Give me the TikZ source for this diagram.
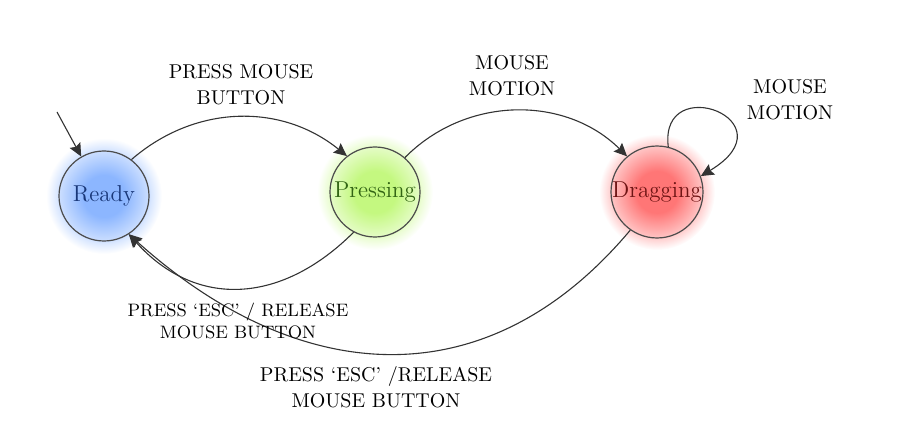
\documentclass[tikz,border=0pt]{standalone}
\usepackage{tikz}
\usetikzlibrary{arrows.meta,backgrounds}
\definecolor{readyfill}{RGB}{140,182,255}
\definecolor{readytext}{RGB}{25,55,120}
\definecolor{pressfill}{RGB}{196,248,128}
\definecolor{presstext}{RGB}{50,100,20}
\definecolor{dragfill}{RGB}{255,118,118}
\definecolor{dragtext}{RGB}{110,20,20}
\pgfdeclareradialshading{readyglow}{\pgfpointorigin}{color(0bp)=(readyfill); color(9bp)=(readyfill); color(19.4bp)=(readyfill!45!white); color(20bp)=(readyfill!35!white); color(25bp)=(white); color(50bp)=(white)}
\pgfdeclareradialshading{pressglow}{\pgfpointorigin}{color(0bp)=(pressfill); color(9bp)=(pressfill); color(19.4bp)=(pressfill!45!white); color(20bp)=(pressfill!35!white); color(25bp)=(white); color(50bp)=(white)}
\pgfdeclareradialshading{dragglow}{\pgfpointorigin}{color(0bp)=(dragfill); color(9bp)=(dragfill); color(19.4bp)=(dragfill!45!white); color(20bp)=(dragfill!35!white); color(25bp)=(white); color(50bp)=(white)}

\tikzset{
    state/.style={circle, draw=black!70, line width=0.6pt, minimum size=45pt, inner sep=0pt, font=\fontsize{11.5}{14}\selectfont},
    trans/.style={draw=black!80, line width=0.55pt, -{Stealth[length=6.5pt,width=6pt,inset=1pt]}},
    lbl/.style={align=center, font=\fontsize{10}{13}\selectfont},
    smalllbl/.style={align=center, font=\fontsize{9}{11}\selectfont}
}

\begin{document}
\begin{tikzpicture}[x=0.5pt, y=0.5pt]
\useasboundingbox (0,0) rectangle (911,445);

% states
\node[state, text=readytext] (ready) at (104,249) {Ready};
\node[state, text=presstext] (pressing) at (375,253) {Pressing};
\node[state, text=dragtext] (dragging) at (657,253) {Dragging};

% glow behind the states
\begin{scope}[on background layer]
    \shade[shading=readyglow] (ready.center) circle[radius=58];
    \shade[shading=pressglow] (pressing.center) circle[radius=58];
    \shade[shading=dragglow] (dragging.center) circle[radius=58];
\end{scope}

% transitions
\coordinate (init) at (57,333);
\draw[trans] (init) -- (ready.120);
\draw[trans] (ready.53) to[bend left=40] (pressing.128);
\draw[trans] (pressing.49) to[bend left=45] (dragging.130);
\draw[trans] (dragging.76) to[out=97, in=31, out looseness=4.5, in looseness=6.3] (dragging.20);
\draw[trans] (pressing.-118) to[out=-135, in=-48, looseness=1.15] (ready.-57);
\draw[trans] (dragging.-125) to[out=-130, in=-42, looseness=1.15] (ready.-57);

% labels
\node[lbl] (lblpress) at (241,360) {PRESS MOUSE\\BUTTON};
\node[lbl] (lblmotion) at (512,369) {MOUSE\\MOTION};
\node[lbl] (lblloop) at (790,345) {MOUSE\\MOTION};
\node[smalllbl] (lblescone) at (238,124) {PRESS `ESC' / RELEASE\\MOUSE BUTTON};
\node[lbl] (lblesctwo) at (376,58) {PRESS `ESC' /RELEASE\\MOUSE BUTTON};

\end{tikzpicture}
\end{document}
